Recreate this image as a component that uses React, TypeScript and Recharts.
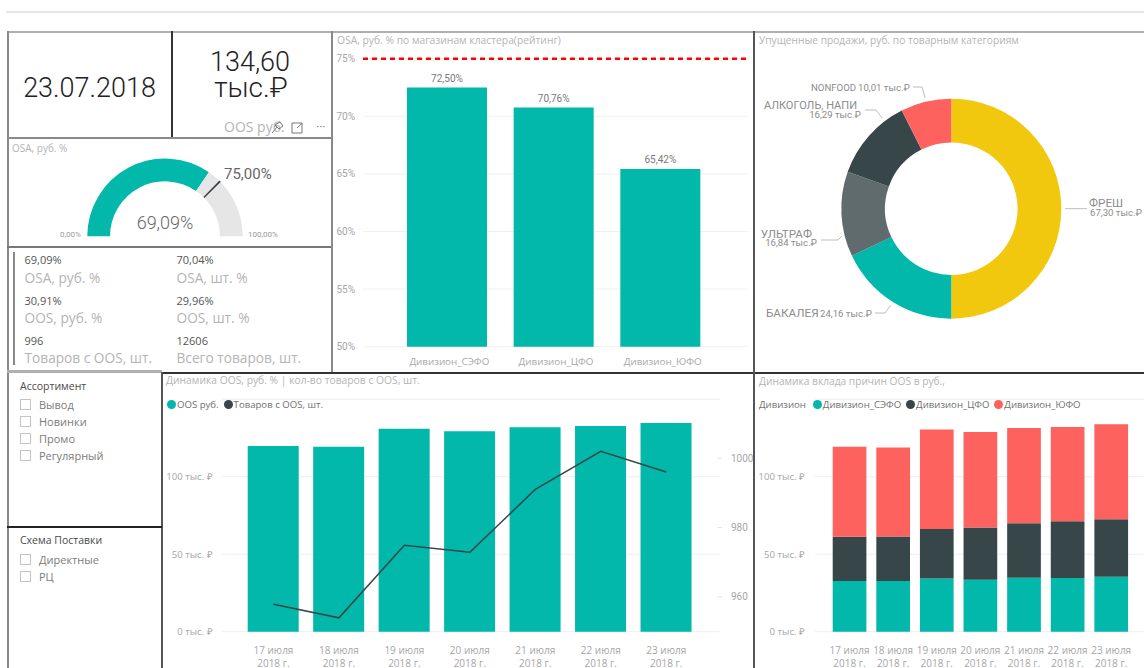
import React from 'react';
import {
  Bar, BarChart, CartesianGrid, Cell, ComposedChart, LabelList, Legend, Line,
  Pie, PieChart, ReferenceLine, XAxis, YAxis,
} from 'recharts';

const TEAL = '#01B8AA';
const DARK = '#374649';
const RED = '#FD625E';
const YELLOW = '#F2C80F';
const SLATE = '#5F6B6D';
const TITLE_GREY = '#b4b4b4';
const TICK_GREY = '#a6a6a6';
const BODY_FONT = '"Open Sans", sans-serif';
const NUM_FONT = 'Roboto, sans-serif';

// gauge
const gaugeParts = [69.09, 30.91];
const gaugeTargetParts = [74.6, 0.8, 24.6];

// division ranking
const divisions = ['Дивизион_СЭФО', 'Дивизион_ЦФО', 'Дивизион_ЮФО'];
const divisionOsa = [72.5, 70.76, 65.42];
const osaTicks = [50, 55, 60, 65, 70, 75];
const osaTarget = 75;

// lost sales donut
const categoryNames = ['ФРЕШ', 'БАКАЛЕЯ', 'УЛЬТРАФ', 'АЛКОГОЛЬ, НАПИ', 'NONFOOD'];
const categoryLost = [67.3, 24.16, 16.84, 16.29, 10.01];
const categoryColors = [YELLOW, TEAL, SLATE, DARK, RED];

// daily series
const days = ['17 июля', '18 июля', '19 июля', '20 июля', '21 июля', '22 июля', '23 июля'];
const yearLabel = '2018 г.';
const oosRub = [119.8, 119.4, 131, 129.3, 131.9, 132.7, 134.6];
const oosItems = [957.9, 954, 974.9, 972.9, 991, 1002, 996];
const rubTicks = [0, 50, 100];
const itemTicks = [960, 980, 1000];
const szfoRub = [32.7, 32.7, 34.4, 33.5, 34.8, 34.6, 35.5];
const cfoRub = [28.6, 28.8, 31.8, 33.8, 35.1, 36.6, 37.0];
const yufoRub = [58.1, 57.4, 64.3, 61.5, 61.5, 60.8, 61.3];

// cards
const kpiRows = [
  [['69,09%', 'OSA, руб. %'], ['70,04%', 'OSA, шт. %']],
  [['30,91%', 'OOS, руб. %'], ['29,96%', 'OOS, шт. %']],
  [['996', 'Товаров с OOS, шт.'], ['12606', 'Всего товаров, шт.']],
];
const assortment = ['Вывод', 'Новинки', 'Промо', 'Регулярный'];
const supply = ['Директные', 'РЦ'];

const rankingRows = divisions.map((name, i) => ({ name, osa: divisionOsa[i] }));
const donutRows = categoryNames.map((name, i) => ({ name, lost: categoryLost[i] }));
const comboRows = days.map((day, i) => ({ day, oos: oosRub[i], items: oosItems[i] }));
const stackRows = days.map((day, i) => ({ day, szfo: szfoRub[i], cfo: cfoRub[i], yufo: yufoRub[i] }));

// callout layout for the donut, in page pixels
const callouts = [
  { x: 1089, y: 207, anchor: 'start', size: 11.7, value: '67,30 тыс.₽', vx: 1090, vy: 216, vanchor: 'start', path: [[1065, 208.7], [1087, 208.7]] },
  { x: 766, y: 317, anchor: 'start', size: 11.7, value: '24,16 тыс.₽', vx: 820, vy: 317, vanchor: 'start', path: [[875, 313], [885, 313], [890.7, 305]] },
  { x: 812, y: 238, anchor: 'end', size: 11.7, value: '16,84 тыс.₽', vx: 817, vy: 246, vanchor: 'end', path: [[821, 240], [838, 240], [842, 236]] },
  { x: 857, y: 109, anchor: 'end', size: 11, value: '16,29 тыс.₽', vx: 861, vy: 118, vanchor: 'end', path: [[865, 110], [876, 110], [882.3, 118.3]] },
  { x: 811, y: 91, anchor: 'start', size: 9.6, value: '10,01 тыс.₽', vx: 858, vy: 91, vanchor: 'start', path: [[913, 87], [922, 87], [925, 97.7]] },
];

const DONUT_LEFT = 753;
const DONUT_TOP = 31;

const DonutLabel = (props: any) => {
  const c = callouts[props.index];
  return (
    <g fontFamily={NUM_FONT}>
      <text x={c.x - DONUT_LEFT} y={c.y - DONUT_TOP} textAnchor={c.anchor} fontSize={c.size} fill="#8c8c8c">
        {props.name}
      </text>
      <text x={c.vx - DONUT_LEFT} y={c.vy - DONUT_TOP} textAnchor={c.vanchor} fontSize={9.6} fill="#8c8c8c">
        {c.value}
      </text>
    </g>
  );
};

const DonutLeader = (props: any) => {
  const c = callouts[props.index];
  const d = c.path.map((p, i) => `${i ? 'L' : 'M'}${p[0] - DONUT_LEFT} ${p[1] - DONUT_TOP}`).join(' ');
  return <path d={d} fill="none" stroke="#bdbdbd" strokeWidth={1} />;
};

const DayTick = (props: any) => (
  <text x={props.x} y={props.y} textAnchor="middle" fontSize={10} fontFamily={BODY_FONT} fill={TICK_GREY}>
    <tspan x={props.x} dy={20}>{props.payload.value}</tspan>
    <tspan x={props.x} dy={13}>{yearLabel}</tspan>
  </text>
);

const RightTick = (props: any) => (
  <g>
    <line x1={props.x - 5} x2={props.x} y1={props.y} y2={props.y} stroke="#e4e4e4" />
    <text x={props.x + 9} y={props.y + 3.5} fontSize={10} fontFamily={NUM_FONT} fill={TICK_GREY}>{props.payload.value}</text>
  </g>
);

const rubLabel = (v: number) => `${v}\u00a0тыс.\u00a0₽`;

const LegendDots = ({ payload, title }: any) => (
  <div style={{ display: 'flex', alignItems: 'center', height: 16, fontFamily: BODY_FONT, fontSize: 9.6, color: '#6f6f6f', whiteSpace: 'nowrap' }}>
    {title && <span style={{ marginRight: 7 }}>{title}</span>}
    {(payload || []).map((e: any) => (
      <span key={e.value} style={{ display: 'flex', alignItems: 'center', marginRight: 5 }}>
        <span style={{ width: 9, height: 9, borderRadius: 5, background: e.color, marginRight: 1 }} />
        {e.value}
      </span>
    ))}
  </div>
);

const Box = ({ x, y, children }: any) => (
  <div style={{ position: 'absolute', left: x, top: y }}>{children}</div>
);

const Txt = ({ x, y, size, color, font = BODY_FONT, center = false, weight = 400, children }: any) => (
  <div style={{
    position: 'absolute', left: x, top: y - 20, height: 40, lineHeight: '40px', fontSize: size, color, fontFamily: font, fontWeight: weight,
    whiteSpace: 'nowrap', transform: center ? 'translateX(-50%)' : undefined,
  }}>{children}</div>
);

const Rule = ({ x, y, w, h, c }: any) => (
  <div style={{ position: 'absolute', left: x, top: y, width: w, height: h, background: c }} />
);

const Slicer = ({ title, titleY, items, firstY }: any) => (
  <>
    <Txt x={20} y={titleY} size={10.5} color="#4a4a4a">{title}</Txt>
    {items.map((item: string, i: number) => (
      <React.Fragment key={item}>
        <div style={{ position: 'absolute', left: 20, top: firstY + i * 17 - 5.5, width: 9, height: 9, border: '1px solid #c4c4c4' }} />
        <Txt x={39} y={firstY + i * 17} size={11} color="#7c7c7c">{item}</Txt>
      </React.Fragment>
    ))}
  </>
);

const App = () => (
  <div style={{ position: 'absolute', left: 0, top: 0, width: 1144, height: 668, overflow: 'hidden', background: '#fff' }}>
    {/* gauge */}
    <Box x={7} y={138}>
      <PieChart width={325} height={108} margin={{ top: 0, right: 0, bottom: 0, left: 0 }}>
        <Pie data={gaugeParts.map(v => ({ v }))} dataKey="v" cx={158} cy={98.3} innerRadius={55} outerRadius={77.7}
          startAngle={180} endAngle={0} stroke="none" isAnimationActive={false}>
          <Cell fill={TEAL} />
          <Cell fill="#E6E6E6" />
        </Pie>
        <Pie data={gaugeTargetParts.map(v => ({ v }))} dataKey="v" cx={158} cy={98.3} innerRadius={55} outerRadius={78}
          startAngle={180} endAngle={0} stroke="none" isAnimationActive={false}>
          <Cell fill="transparent" />
          <Cell fill={DARK} />
          <Cell fill="transparent" />
        </Pie>
      </PieChart>
    </Box>

    {/* ranking */}
    <Box x={332} y={31}>
      <BarChart width={421} height={341} data={rankingRows} margin={{ top: 27.7, right: 5, bottom: 0, left: 0 }}>
        <CartesianGrid vertical={false} stroke="#f0f0f0" />
        <XAxis dataKey="name" interval={0} height={25.3} padding={{ left: 31, right: 34 }} axisLine={false} tickLine={false} tickSize={0} tickMargin={11}
          tick={{ fontSize: 9.8, fontFamily: BODY_FONT, fill: TICK_GREY, dx: 2 }} />
        <YAxis width={31} domain={[50, 75]} ticks={osaTicks} axisLine={false} tickLine={false} tickSize={0} tickMargin={8}
          tickFormatter={(v: number) => `${v}%`} tick={{ fontSize: 10, fontFamily: NUM_FONT, fill: TICK_GREY }} />
        <ReferenceLine y={osaTarget} stroke="#FF0000" strokeWidth={2.5} strokeDasharray="5 4" />
        <Bar dataKey="osa" fill={TEAL} barSize={80} isAnimationActive={false}>
          <LabelList dataKey="osa" position="top" offset={6} fontSize={10} fontFamily={NUM_FONT} fill="#7a7a7a"
            formatter={(v: number) => `${v.toFixed(2).replace('.', ',')}%`} />
        </Bar>
      </BarChart>
    </Box>

    {/* donut */}
    <Box x={DONUT_LEFT} y={DONUT_TOP}>
      <PieChart width={391} height={341} margin={{ top: 0, right: 0, bottom: 0, left: 0 }}>
        <Pie data={donutRows} dataKey="lost" nameKey="name" cx={198.3} cy={177.7} innerRadius={66.3} outerRadius={110}
          startAngle={90} endAngle={-270} stroke="none" isAnimationActive={false}
          label={DonutLabel} labelLine={DonutLeader}>
          {categoryColors.map(c => <Cell key={c} fill={c} />)}
        </Pie>
      </PieChart>
    </Box>

    {/* OOS + items */}
    <Box x={162} y={372}>
      <ComposedChart width={591} height={296} data={comboRows} margin={{ top: 11.2, right: 0, bottom: 0, left: 0 }}>
        <CartesianGrid vertical={false} yAxisId="rub" stroke="#eeeeee" />
        <XAxis dataKey="day" interval={0} height={36.3} padding={{ left: 19, right: 21 }} axisLine={false} tickLine={false} tickSize={0} tick={DayTick} />
        <YAxis yAxisId="rub" width={59.7} domain={[0, 150]} ticks={rubTicks} axisLine={false} tickLine={false} tickSize={0} tickMargin={9}
          tickFormatter={rubLabel} tick={{ fontSize: 9.6, fontFamily: BODY_FONT, fill: TICK_GREY }} />
        <YAxis yAxisId="items" orientation="right" width={33} domain={[950, 1017]} ticks={itemTicks} axisLine={false} tickLine={false} tickSize={0} tick={RightTick} />
        <Legend verticalAlign="top" align="left" wrapperStyle={{ top: 24, left: 5, width: 'auto' }} content={<LegendDots />} />
        <Bar yAxisId="rub" dataKey="oos" name="OOS руб." fill={TEAL} barSize={51} isAnimationActive={false} />
        <Line yAxisId="items" dataKey="items" name="Товаров с OOS, шт." type="linear" stroke={DARK} strokeWidth={1.5} dot={false} isAnimationActive={false} />
      </ComposedChart>
    </Box>

    {/* OOS by division */}
    <Box x={753} y={372}>
      <BarChart width={391} height={296} data={stackRows} margin={{ top: 11.2, right: 0, bottom: 0, left: 0 }}>
        <CartesianGrid vertical={false} stroke="#eeeeee" />
        <XAxis dataKey="day" interval={0} height={36.3} padding={{ left: 12.7, right: 11 }} axisLine={false} tickLine={false} tickSize={0} tick={DayTick} />
        <YAxis width={62} domain={[0, 150]} ticks={rubTicks} axisLine={false} tickLine={false} tickSize={0} tickMargin={10}
          tickFormatter={rubLabel} tick={{ fontSize: 9.6, fontFamily: BODY_FONT, fill: TICK_GREY }} />
        <Legend verticalAlign="top" align="left" wrapperStyle={{ top: 24, left: 6, width: 'auto' }} content={<LegendDots title="Дивизион" />} />
        <Bar dataKey="szfo" name={divisions[0]} stackId="a" fill={TEAL} barSize={33.7} isAnimationActive={false} />
        <Bar dataKey="cfo" name={divisions[1]} stackId="a" fill={DARK} barSize={33.7} isAnimationActive={false} />
        <Bar dataKey="yufo" name={divisions[2]} stackId="a" fill={RED} barSize={33.7} isAnimationActive={false} />
      </BarChart>
    </Box>

    {/* panel rules */}
    <Rule x={6} y={11} w={1138} h={2} c="#e6e6e6" />
    <Rule x={7} y={31} w={1137} h={2} c="#b0b0b0" />
    <Rule x={7} y={31} w={2} h={637} c="#8a8a8a" />
    <Rule x={171} y={31} w={2} h={107} c="#333333" />
    <Rule x={7} y={137} w={325} h={2} c="#8a8a8a" />
    <Rule x={7} y={246} w={325} h={2} c="#777777" />
    <Rule x={331} y={31} w={2} h={341} c="#8a8a8a" />
    <Rule x={7} y={370} w={155} h={3} c="#b0b0b0" />
    <Rule x={162} y={372} w={982} h={2} c="#333333" />
    <Rule x={161} y={372} w={2} h={296} c="#555555" />
    <Rule x={7} y={526} w={155} h={2} c="#222222" />
    <Rule x={753} y={31} w={2} h={637} c="#555555" />
    <Rule x={13} y={252} w={2} h={113} c="#8a8a8a" />

    {/* cards */}
    <Txt x={89.5} y={88} size={27} color="#222" font={NUM_FONT} weight={300} center>23.07.2018</Txt>
    <Txt x={250} y={62} size={27} color="#222" font={NUM_FONT} weight={300} center>134,60</Txt>
    <Txt x={251} y={88} size={28} color="#222" font={NUM_FONT} weight={300} center>тыс.₽</Txt>
    <Txt x={224} y={127} size={14} color="#b4b4b4">OOS руб.</Txt>
    <Txt x={316} y={127} size={12} color="#777" font={NUM_FONT}>···</Txt>
    <svg style={{ position: 'absolute', left: 268, top: 120 }} width={40} height={16} fill="none" stroke="#777" strokeWidth={1}>
      <path d="M4 13 L9 7 L7 5 L12 2 L15 6 L11 9 L9 7" />
      <path d="M24 3 H34 V13 H24 Z M29 8 L34 3" />
    </svg>

    <Txt x={12} y={148} size={10} color={TITLE_GREY}>OSA, руб. %</Txt>
    <Txt x={165} y={223} size={18} color="#666" font={NUM_FONT} weight={300} center>69,09%</Txt>
    <Txt x={224} y={174} size={15} color="#666" font={NUM_FONT}>75,00%</Txt>
    <Txt x={60} y={235} size={8} color="#999" font={NUM_FONT}>0,00%</Txt>
    <Txt x={248} y={235} size={8} color="#999" font={NUM_FONT}>100,00%</Txt>

    {kpiRows.map((row, r) => row.map(([value, label], c) => (
      <React.Fragment key={label}>
        <Txt x={c ? 176.5 : 24.5} y={260 + r * 40.5} size={11} color="#555">{value}</Txt>
        <Txt x={c ? 176.5 : 24.5} y={278 + r * 40} size={13.7} color="#b4b4b4">{label}</Txt>
      </React.Fragment>
    )))}

    <Slicer title="Ассортимент" titleY={386} items={assortment} firstY={404.5} />
    <Slicer title="Схема Поставки" titleY={540} items={supply} firstY={559.5} />

    <Txt x={337} y={40} size={10.3} color={TITLE_GREY}>OSA, руб. % по магазинам кластера(рейтинг)</Txt>
    <Txt x={759} y={40} size={10.2} color={TITLE_GREY}>Упущенные продажи, руб. по товарным категориям</Txt>
    <Txt x={166} y={380} size={10.3} color={TITLE_GREY}>Динамика OOS, руб. % | кол-во товаров с OOS, шт.</Txt>
    <Txt x={759} y={381} size={10.2} color={TITLE_GREY}>Динамика вклада причин OOS в руб.,</Txt>
  </div>
);

export default App;
